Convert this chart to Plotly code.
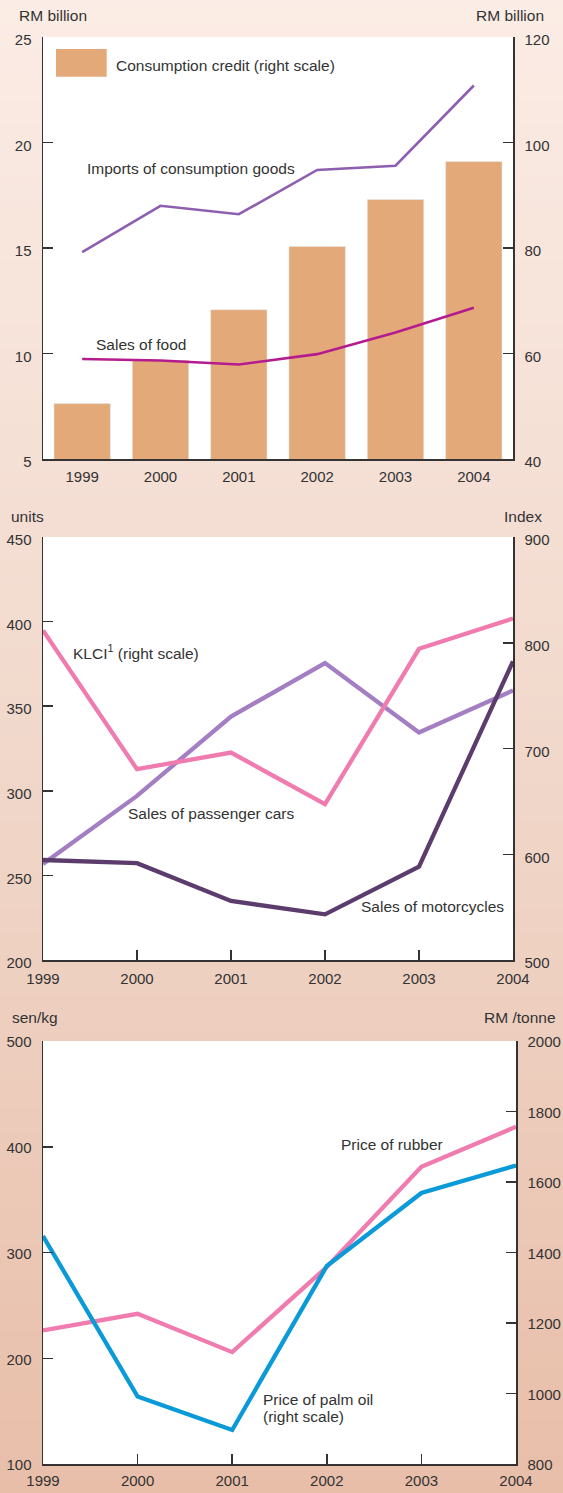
import plotly.graph_objects as go

# ---------------- data ----------------
years_cat = ["1999", "2000", "2001", "2002", "2003", "2004"]
years = [1999, 2000, 2001, 2002, 2003, 2004]

# Panel 1 (RM billion)
consumption_credit = [50.5, 58.7, 68.3, 80.3, 89.2, 96.4]          # right scale
imports_consumption_goods = [14.8, 17.0, 16.6, 18.7, 18.9, 22.7]    # left scale
sales_of_food = [9.74, 9.67, 9.48, 9.97, 11.0, 12.17]               # left scale

# Panel 2
passenger_cars = [256.8, 297.0, 343.9, 375.5, 334.5, 359.3]         # units (left)
motorcycles = [259.1, 257.2, 234.9, 227.0, 255.2, 376.5]            # units (left)
klci = [811.7, 680.4, 696.2, 647.3, 794.3, 823.0]                   # index (right)

# Panel 3
rubber = [226.3, 242.0, 205.8, 286.3, 381.0, 418.9]                 # sen/kg (left)
palm_oil = [1446.9, 991.3, 896.6, 1361.7, 1569.0, 1646.8]           # RM/tonne (right)

W, H = 563, 1493
FONT = "Liberation Sans, Arial, sans-serif"
TXT = "#333333"
AX = "#333333"

def px(x):
    return x / W

def py(y):
    return 1 - y / H

# panel pixel boxes (left, right, top, bottom)
P1 = (43, 513, 37, 459)
P2 = (43, 513, 537, 960)
P3 = (43, 516, 1041, 1464)

def xdom(p):
    return [px(p[0]), px(p[1])]

def ydom(p):
    return [py(p[3]), py(p[2])]

fig = go.Figure()

# Panel 1
fig.add_trace(go.Bar(x=years_cat, y=consumption_credit, marker_color="#E3A978",
                     width=0.72, xaxis="x", yaxis="y", showlegend=False))
fig.add_trace(go.Scatter(x=years_cat, y=imports_consumption_goods, mode="lines",
                         line=dict(color="#8E5FB0", width=2.6), xaxis="x", yaxis="y2",
                         showlegend=False))
fig.add_trace(go.Scatter(x=years_cat, y=sales_of_food, mode="lines",
                         line=dict(color="#B31B8E", width=2.6), xaxis="x", yaxis="y2",
                         showlegend=False))

# Panel 2
fig.add_trace(go.Scatter(x=years, y=passenger_cars, mode="lines",
                         line=dict(color="#A47EC2", width=4.3), xaxis="x2", yaxis="y3",
                         showlegend=False))
fig.add_trace(go.Scatter(x=years, y=motorcycles, mode="lines",
                         line=dict(color="#5C3C6C", width=4.3), xaxis="x2", yaxis="y3",
                         showlegend=False))
fig.add_trace(go.Scatter(x=years, y=klci, mode="lines",
                         line=dict(color="#F07CAF", width=4.3), xaxis="x2", yaxis="y4",
                         showlegend=False))

# Panel 3
fig.add_trace(go.Scatter(x=years, y=rubber, mode="lines",
                         line=dict(color="#F07CAF", width=4.3), xaxis="x3", yaxis="y5",
                         showlegend=False))
fig.add_trace(go.Scatter(x=years, y=palm_oil, mode="lines",
                         line=dict(color="#0A9AD8", width=4.3), xaxis="x3", yaxis="y6",
                         showlegend=False))

tickfont = dict(family=FONT, size=15, color=TXT)

def yax(p, rng, dtick, side, overlay=None, anchor="x", shift=3):
    d = dict(domain=ydom(p), range=rng, dtick=dtick, side=side, anchor=anchor,
             showgrid=False, zeroline=False, showline=True, linecolor=AX, linewidth=1.5,
             ticks="inside", ticklen=10, tickwidth=1.5, tickcolor=AX, automargin=False,
             tickfont=tickfont, ticklabelstandoff=7, ticklabelshift=shift, fixedrange=True)
    if overlay:
        d["overlaying"] = overlay
    return d

def xlin(p, anchor, standoff):
    return dict(domain=xdom(p), anchor=anchor, range=[1999, 2004], tickvals=years,
                ticktext=years_cat, showgrid=False, zeroline=False, showline=True,
                linecolor=AX, linewidth=1.5, ticks="inside", ticklen=10, tickwidth=1.5,
                tickcolor=AX, tickfont=tickfont, ticklabelstandoff=standoff, fixedrange=True,
                automargin=False)

layout = dict(
    width=W, height=H, margin=dict(l=0, r=0, t=0, b=0, pad=0, autoexpand=False),
    paper_bgcolor="#FBECE5", plot_bgcolor="white",
    font=dict(family=FONT, size=15, color=TXT),
    showlegend=False, bargap=0.28,
    xaxis=dict(domain=xdom(P1), anchor="y", type="category", range=[-0.5, 5.5],
               showgrid=False, zeroline=False, showline=True, linecolor=AX, linewidth=1.5,
               ticks="", tickfont=tickfont, ticklabelstandoff=3, fixedrange=True,
               automargin=False),
    yaxis=yax(P1, [40, 120], 20, "right", anchor="x"),
    yaxis2=yax(P1, [5, 25], 5, "left", overlay="y", anchor="x"),
    xaxis2=xlin(P2, "y3", 4),
    yaxis3=yax(P2, [200, 450], 50, "left", anchor="x2"),
    yaxis4=yax(P2, [500, 900], 100, "right", overlay="y3", anchor="x2"),
    xaxis3=xlin(P3, "y5", 2),
    yaxis5=yax(P3, [100, 500], 100, "left", anchor="x3", shift=1),
    yaxis6=yax(P3, [800, 2000], 200, "right", overlay="y5", anchor="x3", shift=1),
)
fig.update_layout(**layout)

# background gradient
stops = [(0.0, (251, 236, 229)), (0.5, (241, 216, 203)), (1.0, (232, 190, 169))]

def grad(t):
    for (t0, c0), (t1, c1) in zip(stops[:-1], stops[1:]):
        if t0 <= t <= t1:
            f = (t - t0) / (t1 - t0)
            return tuple(round(a + (b - a) * f) for a, b in zip(c0, c1))
    return stops[-1][1]

shapes = []
N = 120
for i in range(N):
    y_top = i * H / N
    y_bot = (i + 1) * H / N + 1
    c = grad((i + 0.5) / N)
    shapes.append(dict(type="rect", xref="paper", yref="paper", x0=0, x1=1,
                       y0=py(min(y_bot, H)), y1=py(y_top), layer="below",
                       fillcolor="rgb(%d,%d,%d)" % c, line=dict(width=0)))
# white plot areas
for xa, ya in [("x", "y"), ("x2", "y3"), ("x3", "y5")]:
    shapes.append(dict(type="rect", xref=xa + " domain", yref=ya + " domain",
                       x0=0, x1=1, y0=0, y1=1, layer="below", fillcolor="white",
                       line=dict(width=0)))
# legend swatch
shapes.append(dict(type="rect", xref="paper", yref="paper", x0=px(56), x1=px(106.7),
                   y0=py(76.7), y1=py(49), fillcolor="#E3A978", line=dict(width=0)))
fig.update_layout(shapes=shapes)

AF = dict(family=FONT, size=15.5, color=TXT)

def note(text, x, y, anchor="left"):
    fig.add_annotation(text=text, xref="paper", yref="paper", x=px(x), y=py(y),
                       xanchor=anchor, yanchor="middle", showarrow=False, font=AF)

# unit labels
note("RM billion", 17, 15)
note("RM billion", 546, 15, "right")
note("units", 9, 516)
note("Index", 544, 516, "right")
note("sen/kg", 9.5, 1017)
note("RM /tonne", 557.5, 1017, "right")

# series labels
note("Consumption credit (right scale)", 114, 65.7)
note("Imports of consumption goods", 85, 169)
note("Sales of food", 94, 344.3)
note("KLCI<sup>1</sup> (right scale)", 71, 652)
note("Sales of passenger cars", 125.7, 814)
note("Sales of motorcycles", 359, 906.7)
note("Price of rubber", 339.3, 1144.7)
note("Price of palm oil", 260.7, 1399.3)
note("(right scale)", 260.7, 1416.7)

fig.write_html(
    "out.html",
    config={"displayModeBar": False, "staticPlot": True},
    post_script="document.body.style.margin='0';document.body.style.padding='0';"
                "document.body.style.overflow='hidden';",
)
